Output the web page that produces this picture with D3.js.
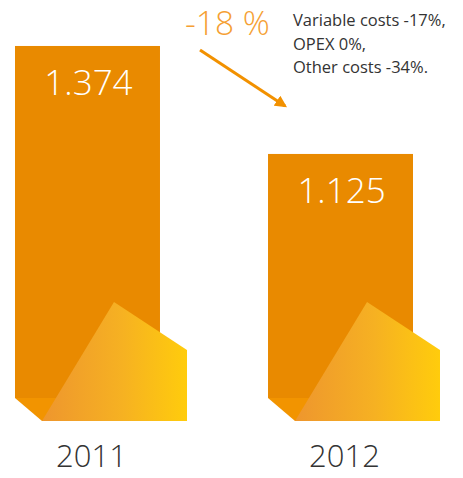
<!DOCTYPE html>
<html>
<head>
<meta charset="utf-8">
<script src="https://cdn.jsdelivr.net/npm/d3@7"></script>
<style>
  html, body { margin: 0; padding: 0; background: #fff; }
  svg { display: block; }
</style>
</head>
<body>
<svg id="chart" width="463" height="478"></svg>
<script>
// Total costs per year
const years = ["2011", "2012"];
const values = [1.374, 1.125];
const valueLabels = ["1.374", "1.125"];
const changeLabel = "-18 %";
const noteLines = ["Variable costs -17%,", "OPEX 0%,", "Other costs -34%."];

const W = 463, H = 478;
const baseY = 421;      // floor line of the bars
const fold = { dx: 27, dy: 23 };
const font = "'Open Sans', 'Noto Sans', sans-serif";

const svg = d3.select("#chart");

const x = d3.scaleBand().domain(years).range([15, 413]).paddingInner(0.427).paddingOuter(0);
const y = d3.scaleLinear().domain([0.5, 1.4]).range([425, 34.7]);

const defs = svg.append("defs");
const grad = defs.append("linearGradient").attr("id", "shine")
  .attr("x1", "0%").attr("x2", "100%").attr("y1", "0%").attr("y2", "0%");
grad.append("stop").attr("offset", "0%").attr("stop-color", "#ee962e");
grad.append("stop").attr("offset", "55%").attr("stop-color", "#f6b122");
grad.append("stop").attr("offset", "100%").attr("stop-color", "#ffcc0c");

const bw = x.bandwidth();
const g = svg.selectAll("g.bar").data(years.map((yr, i) => ({ yr, v: values[i], label: valueLabels[i] })))
  .enter().append("g").attr("class", "bar");

// main bar
g.append("rect")
  .attr("x", d => x(d.yr))
  .attr("y", d => y(d.v))
  .attr("width", bw)
  .attr("height", d => baseY - fold.dy - y(d.v))
  .attr("fill", "#e98a00");

// folded floor strip
g.append("path")
  .attr("fill", "#f29400")
  .attr("d", d => {
    const x0 = x(d.yr), t = baseY - fold.dy;
    return `M${x0},${t}L${x0 + bw},${t}L${x0 + bw + fold.dx},${baseY}L${x0 + fold.dx},${baseY}Z`;
  });

// light facet in front
g.append("path")
  .attr("fill", "url(#shine)")
  .attr("d", d => {
    const x0 = x(d.yr);
    return `M${x0 + fold.dx},${baseY}L${x0 + 99},302L${x0 + bw + fold.dx},350L${x0 + bw + fold.dx},${baseY}Z`;
  });

// value inside bar
g.append("text")
  .attr("x", d => x(d.yr) + bw / 2 + 1)
  .attr("y", d => y(d.v) + 49)
  .attr("text-anchor", "middle")
  .attr("fill", "#fff")
  .attr("font-family", font)
  .attr("font-weight", 300)
  .attr("font-size", 35)
  .text(d => d.label);

// year label
g.append("text")
  .attr("x", d => x(d.yr) + bw / 2 + 4)
  .attr("y", 467)
  .attr("text-anchor", "middle")
  .attr("fill", "#333")
  .attr("font-family", font)
  .attr("font-weight", 300)
  .attr("font-size", 31)
  .text(d => d.yr);

// change annotation
svg.append("text")
  .attr("x", 185).attr("y", 35)
  .attr("fill", "#f5a033")
  .attr("font-family", font)
  .attr("font-weight", 300)
  .attr("font-size", 33.5)
  .text(changeLabel);

defs.append("marker").attr("id", "head")
  .attr("viewBox", "0 0 10 10").attr("refX", 8).attr("refY", 5)
  .attr("markerWidth", 4).attr("markerHeight", 4).attr("orient", "auto")
  .append("path").attr("d", "M0,0L10,5L0,10Z").attr("fill", "#f29100");

svg.append("line")
  .attr("x1", 200).attr("y1", 50).attr("x2", 285).attr("y2", 106)
  .attr("stroke", "#f29100").attr("stroke-width", 3)
  .attr("marker-end", "url(#head)");

svg.append("text")
  .attr("x", 293).attr("y", 26)
  .attr("fill", "#333")
  .attr("font-family", font)
  .attr("font-size", 16.5)
  .selectAll("tspan").data(noteLines).enter().append("tspan")
  .attr("x", 293).attr("dy", (d, i) => i === 0 ? 0 : 23.5)
  .text(d => d);
</script>
</body>
</html>
